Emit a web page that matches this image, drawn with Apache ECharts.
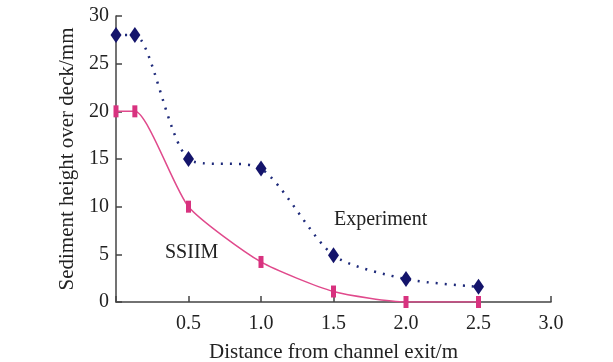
<!DOCTYPE html>
<html>
<head>
<meta charset="utf-8">
<script src="https://cdn.jsdelivr.net/npm/echarts@6/dist/echarts.min.js"></script>
<style>
  html, body { margin: 0; padding: 0; background: #fff; }
  #main { width: 613px; height: 362px; }
</style>
</head>
<body>
<div id="main"></div>
<script>
// distance from channel exit (m)
const expX = [0, 0.13, 0.5, 1.0, 1.5, 2.0, 2.5];
const expY = [28, 28, 15, 14, 4.9, 2.4, 1.6];
const simX = [0, 0.13, 0.5, 1.0, 1.5, 2.0, 2.5];
const simY = [20, 20, 10, 4.2, 1.1, 0, 0];

const font = '"Liberation Serif", "DejaVu Serif", serif';
const axisColor = '#444';

const chart = echarts.init(document.getElementById('main'));

const option = {
  backgroundColor: '#fff',
  animation: false,
  grid: { left: 116, right: 62, top: 16, bottom: 60, outerBoundsMode: 'none', containLabel: false },
  xAxis: {
    type: 'value',
    min: 0,
    max: 3,
    interval: 0.5,
    name: 'Distance from channel exit/m',
    nameLocation: 'middle',
    nameGap: 40,
    nameTextStyle: { fontFamily: font, fontSize: 21, color: '#222' },
    splitLine: { show: false },
    axisLine: { lineStyle: { color: axisColor, width: 1.5 } },
    axisTick: { inside: true, length: 6, lineStyle: { color: axisColor, width: 1.5 } },
    axisLabel: {
      fontFamily: font, fontSize: 20, color: '#222', margin: 12,
      formatter: v => (v === 0 ? '' : v.toFixed(1))
    }
  },
  yAxis: {
    type: 'value',
    min: 0,
    max: 30,
    interval: 5,
    name: 'Sediment height over deck/mm',
    nameLocation: 'middle',
    nameGap: 38,
    nameTextStyle: { fontFamily: font, fontSize: 21, color: '#222' },
    splitLine: { show: false },
    axisLine: { show: true, lineStyle: { color: axisColor, width: 1.5 } },
    axisTick: { show: true, inside: true, length: 6, lineStyle: { color: axisColor, width: 1.5 } },
    axisLabel: { fontFamily: font, fontSize: 20, color: '#222', margin: 7 }
  },
  series: [
    {
      name: 'SSIIM',
      type: 'line',
      smooth: 0.2,
      data: simX.map((x, i) => [x, simY[i]]),
      symbol: 'rect',
      symbolSize: [5, 12],
      itemStyle: { color: '#d8327f' },
      lineStyle: { color: '#e04a8c', width: 1.5 },
      z: 2
    },
    {
      name: 'Experiment',
      type: 'line',
      smooth: 0.25,
      data: expX.map((x, i) => [x, expY[i]]),
      symbol: 'diamond',
      symbolSize: [11, 16],
      itemStyle: { color: '#14146b' },
      lineStyle: { color: '#1e2a7a', width: 2.5, type: [2, 7] },
      z: 3
    }
  ],
  graphic: [
    { type: 'text', left: 334, top: 210, style: { text: 'Experiment', font: '20px ' + font, fill: '#222' } },
    { type: 'text', left: 165, top: 243, style: { text: 'SSIIM', font: '20px ' + font, fill: '#222' } }
  ]
};

chart.setOption(option);
</script>
</body>
</html>
